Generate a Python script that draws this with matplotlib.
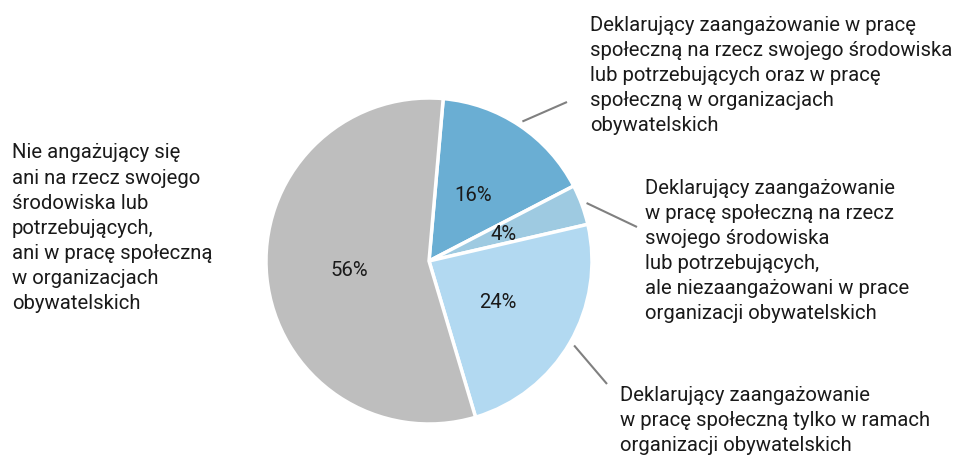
import matplotlib
matplotlib.use("Agg")
import matplotlib.pyplot as plt
import numpy as np

plt.rcParams['font.family'] = ['Roboto', 'DejaVu Sans']

values = [16, 4, 24, 56]
pct_labels = ["16%", "4%", "24%", "56%"]
colors = ["#6aaed3", "#9ecae1", "#b2d9f1", "#bebebe"]
labels = [
    "Deklarujący zaangażowanie w pracę\nspołeczną na rzecz swojego środowiska\nlub potrzebujących oraz w pracę\nspołeczną w organizacjach\nobywatelskich",
    "Deklarujący zaangażowanie\nw pracę społeczną na rzecz\nswojego środowiska\nlub potrzebujących,\nale niezaangażowani w prace\norganizacji obywatelskich",
    "Deklarujący zaangażowanie\nw pracę społeczną tylko w ramach\norganizacji obywatelskich",
    "Nie angażujący się\nani na rzecz swojego\nśrodowiska lub\npotrzebujących,\nani w pracę społeczną\nw organizacjach\nobywatelskich",
]

W, H = 973, 456
CX, CY, R = 429, 262, 163
FS = 14.6

fig = plt.figure(figsize=(W / 100, H / 100), dpi=100)
ax = fig.add_axes([0, 0, 1, 1])

def px(x, y):
    return ((x - CX) / R, (CY - y) / R)

wedges, _, autotexts = ax.pie(
    values, colors=colors, startangle=85, counterclock=False,
    autopct=lambda p: "", pctdistance=0.49,
    wedgeprops=dict(edgecolor="white", linewidth=2.5), radius=1.0,
)
for at, t in zip(autotexts, pct_labels):
    at.set_text(t)
    at.set_fontsize(FS)
    at.set_color("#1a1a1a")

ax.set_xlim(-CX / R, (W - CX) / R)
ax.set_ylim(-(H - CY) / R, CY / R)
ax.set_aspect("equal")
ax.axis("off")

# label layout: (text x, text top y, leader end x, leader end y) in pixels
layout = [
    (590, 15.5, 567, 103),
    (645, 178.5, 637, 228),
    (620, 386, 607, 385),
    (12, 143.5, None, None),
]
for w, lab, (tx, ty, lx, ly) in zip(wedges, labels, layout):
    x, y = px(tx, ty)
    ax.text(x, y, lab, ha="left", va="top", fontsize=FS, color="#1a1a1a",
            linespacing=1.41)
    if lx is not None:
        ang = np.deg2rad((w.theta1 + w.theta2) / 2)
        sx, sy = 1.03 * np.cos(ang), 1.03 * np.sin(ang)
        ex, ey = px(lx, ly)
        ax.plot([sx, ex], [sy, ey], color="#808080", lw=1.5, solid_capstyle="butt")

fig.savefig("out.png", dpi=100)
